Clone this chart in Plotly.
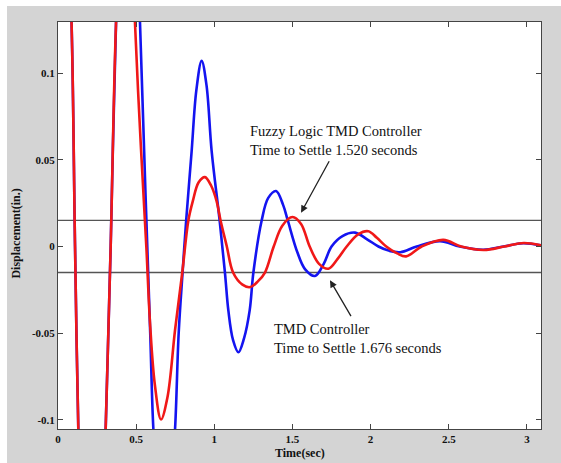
import plotly.graph_objects as go

# ---- data ----
t_tmd = [0.000, 0.040, 0.087, 0.109, 0.130, 0.170, 0.220, 0.270, 0.305, 0.337,
         0.371, 0.410, 0.460, 0.500, 0.525, 0.560, 0.590, 0.610, 0.645, 0.680,
         0.715, 0.749, 0.772, 0.797, 0.820, 0.855, 0.885, 0.919, 0.950, 0.983,
         1.034, 1.068, 1.090, 1.120, 1.154, 1.190, 1.226, 1.250, 1.303, 1.345,
         1.395, 1.440, 1.470, 1.530, 1.580, 1.644, 1.700, 1.750, 1.820, 1.900,
         1.980, 2.050, 2.120, 2.190, 2.295, 2.444, 2.570, 2.720, 2.850, 2.975,
         3.090]
y_tmd = [0.300, 0.250, 0.128, 0.000, -0.105, -0.230, -0.280, -0.220, -0.105, 0.000,
         0.128, 0.210, 0.235, 0.190, 0.128, 0.030, -0.050, -0.105, -0.150, -0.162,
         -0.150, -0.105, -0.050, -0.015, 0.015, 0.055, 0.090, 0.107, 0.093, 0.055,
         0.015, -0.015, -0.037, -0.054, -0.061, -0.053, -0.037, -0.015, 0.015, 0.028,
         0.032, 0.024, 0.015, -0.003, -0.013, -0.017, -0.010, 0.000, 0.006, 0.008,
         0.004, 0.000, -0.0025, -0.0033, 0.000, 0.0031, 0.000, -0.0019, 0.000, 0.0019,
         0.0006]

t_fuzzy = [0.000, 0.040, 0.087, 0.109, 0.130, 0.170, 0.220, 0.270, 0.305, 0.337,
           0.371, 0.410, 0.445, 0.475, 0.493, 0.530, 0.565, 0.590, 0.620, 0.659,
           0.700, 0.749, 0.795, 0.834, 0.862, 0.900, 0.940, 0.980, 1.015, 1.040,
           1.080, 1.120, 1.180, 1.230, 1.280, 1.324, 1.380, 1.435, 1.500, 1.555,
           1.610, 1.670, 1.730, 1.790, 1.847, 1.920, 1.985, 2.040, 2.100, 2.170,
           2.227, 2.327, 2.465, 2.580, 2.725, 2.855, 2.980, 3.090]
y_fuzzy = [0.300, 0.250, 0.128, 0.000, -0.105, -0.230, -0.280, -0.220, -0.105, 0.000,
           0.128, 0.200, 0.215, 0.180, 0.128, 0.058, 0.000, -0.046, -0.080, -0.0997,
           -0.087, -0.048, -0.015, 0.015, 0.026, 0.037, 0.040, 0.035, 0.026, 0.015,
           0.000, -0.015, -0.022, -0.0234, -0.020, -0.015, 0.000, 0.012, 0.017, 0.013,
           0.000, -0.010, -0.0128, -0.007, 0.000, 0.007, 0.0088, 0.005, 0.000, -0.004,
           -0.0057, 0.000, 0.0038, 0.000, -0.0020, 0.000, 0.0020, 0.0006]

settle_band = [0.015, -0.015]

x_ticks = [0, 0.5, 1, 1.5, 2, 2.5, 3]
x_ticktext = ["0", "0.5", "1", "1.5", "2", "2.5", "3"]
y_ticks = [-0.1, -0.05, 0, 0.05, 0.1]
y_ticktext = ["-0.1", "-0.05", "0", "0.05", "0.1"]

fuzzy_label = "Fuzzy Logic TMD Controller<br>Time to Settle 1.520 seconds"
tmd_label = "TMD Controller<br>Time to Settle 1.676 seconds"

SERIF = "Liberation Serif, Times New Roman, serif"

fig = go.Figure()
fig.add_trace(go.Scatter(x=t_tmd, y=y_tmd, mode="lines",
                         line=dict(color="#1414f0", width=2.6, shape="spline", smoothing=1.0),
                         showlegend=False))
fig.add_trace(go.Scatter(x=t_fuzzy, y=y_fuzzy, mode="lines",
                         line=dict(color="#f01818", width=2.6, shape="spline", smoothing=1.0),
                         showlegend=False))

for yv in settle_band:
    fig.add_hline(y=yv, line=dict(color="#555555", width=1.3), layer="below")

# text annotations
fig.add_annotation(x=1.216, y=0.0612, xref="x", yref="y", text=fuzzy_label,
                   showarrow=False, xanchor="left", yanchor="middle", align="left",
                   font=dict(family=SERIF, size=14.5, color="#111111"))
fig.add_annotation(x=1.37, y=-0.0529, xref="x", yref="y", text=tmd_label,
                   showarrow=False, xanchor="left", yanchor="middle", align="left",
                   font=dict(family=SERIF, size=14.5, color="#111111"))
# arrows
fig.add_annotation(x=1.555, y=0.0195, ax=1.74, ay=0.050, xref="x", yref="y",
                   axref="x", ayref="y", text="", showarrow=True,
                   arrowhead=2, arrowsize=1.1, arrowwidth=1.3, arrowcolor="#222222")
fig.add_annotation(x=1.74, y=-0.0195, ax=1.88, ay=-0.041, xref="x", yref="y",
                   axref="x", ayref="y", text="", showarrow=True,
                   arrowhead=2, arrowsize=1.1, arrowwidth=1.3, arrowcolor="#222222")

# axis titles
fig.add_annotation(x=0.5, y=-0.058, xref="paper", yref="paper", text="<b>Time(sec)</b>",
                   showarrow=False, xanchor="center", yanchor="middle",
                   font=dict(family=SERIF, size=12, color="#111111"))
fig.add_annotation(x=-0.087, y=0.48, xref="paper", yref="paper", text="<b>Displacement(in.)</b>",
                   showarrow=False, xanchor="center", yanchor="middle", textangle=-90,
                   font=dict(family=SERIF, size=12, color="#111111"))

# white margins of the figure frame (top and left strips)
fig.add_shape(type="rect", xref="paper", yref="paper", x0=-0.2, x1=1.2, y0=1.0393, y1=1.2,
              fillcolor="white", line=dict(width=0), layer="below")
fig.add_shape(type="rect", xref="paper", yref="paper", x0=-0.2, x1=-0.1056, y0=-0.2, y1=1.2,
              fillcolor="white", line=dict(width=0), layer="below")

axis_common = dict(showgrid=False, zeroline=False, showline=True, linecolor="#444444",
                   linewidth=1, mirror="ticks", ticks="inside", ticklen=5,
                   tickcolor="#444444", tickwidth=1,
                   tickfont=dict(family=SERIF, size=11, color="#111111", weight="bold"))

fig.update_xaxes(range=[0, 3.09], tickvals=x_ticks, ticktext=x_ticktext, **axis_common)
fig.update_yaxes(range=[-0.1052, 0.1294], tickvals=y_ticks, ticktext=y_ticktext, **axis_common)

fig.update_layout(width=561, height=463,
                  margin=dict(l=58, r=20, t=22, b=34),
                  paper_bgcolor="#d4d4d4", plot_bgcolor="white",
                  showlegend=False)

fig.write_html("out.html")
